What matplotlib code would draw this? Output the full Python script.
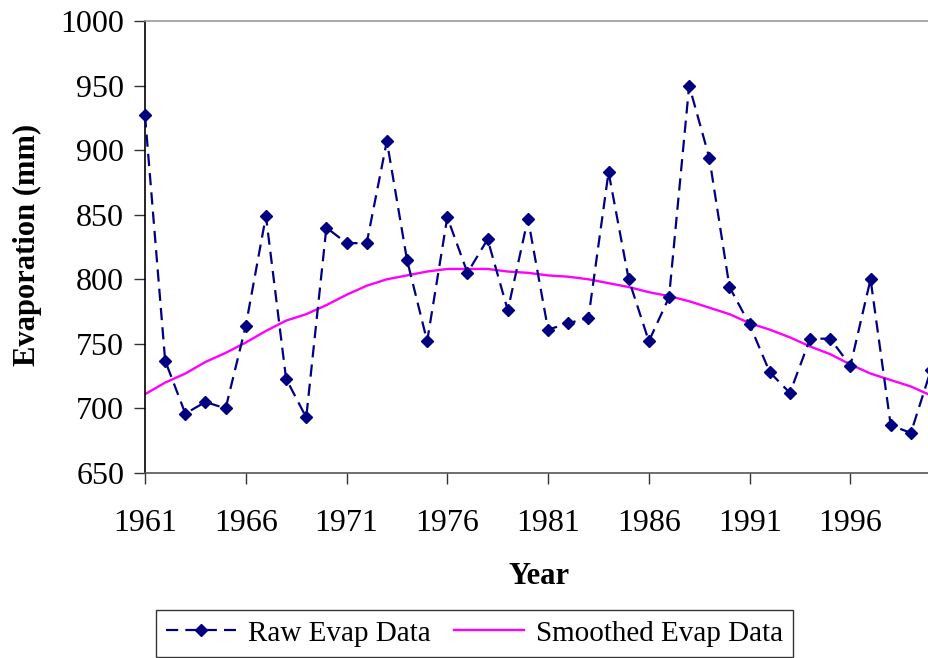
import numpy as np
import matplotlib.pyplot as plt

years = list(range(1961, 2001))
raw_evap = [927, 737, 696, 705, 700, 764, 849, 723, 693, 840,
            828, 828, 907, 815, 752, 848, 805, 831, 776, 847,
            761, 766, 770, 883, 800, 752, 786, 950, 894, 794,
            765, 728, 712, 754, 754, 733, 800, 687, 681, 730]
smooth_evap = [711, 720, 727, 736, 743, 751, 760, 768, 773, 780,
               788, 795, 800, 803, 806, 808, 808, 808, 806, 805,
               803, 802, 800, 797, 794, 790, 787, 783, 778, 773,
               766, 761, 755, 748, 742, 734, 727, 722, 717, 710]
xticks = list(range(1961, 2000, 5))
yticks = list(range(650, 1001, 50))

plt.rcParams['font.family'] = ['Liberation Serif', 'DejaVu Serif']

W, H = 929, 658
fig = plt.figure(figsize=(W/100, H/100), dpi=100)
ax = fig.add_axes([145/W, 1-473/H, (929-145)/W, (473-21)/H])

ax.plot(years, raw_evap, color='#000080', lw=1.6, dashes=(5.5, 3.2),
        marker='D', ms=6.5, label='Raw Evap Data', clip_on=False, zorder=3)
ax.plot(years, smooth_evap, color='#ff00ff', lw=1.7, label='Smoothed Evap Data', zorder=2)

ax.set_xlim(1961, 1999.9)
ax.set_ylim(650, 1000)
ax.set_xticks(xticks)
ax.set_yticks(yticks)
ax.tick_params(axis='both', labelsize=23, direction='out', length=8, width=1, color='#333333')
ax.tick_params(axis='x', pad=18)
ax.tick_params(axis='y', pad=7)

ax.spines['right'].set_visible(False)
ax.spines['top'].set_color('#999999')
ax.spines['left'].set_color('black')
ax.spines['bottom'].set_color('#555555')
for s in ax.spines.values():
    s.set_linewidth(1.2)

fig.text(539/W, 1-577/H, 'Year', ha='center', va='center', fontsize=22, fontweight='bold')
fig.text(27/W, 1-245/H, 'Evaporation (mm)', ha='center', va='center', rotation=90,
         fontsize=22, fontweight='bold')

leg = fig.legend(loc='upper left', bbox_to_anchor=(156/W, 1-610/H), ncol=2, fontsize=21,
                 frameon=True, fancybox=False, edgecolor='black', handlelength=2.4,
                 handletextpad=0.4, columnspacing=0.8, borderpad=0.35, borderaxespad=0)
leg.get_frame().set_linewidth(1.0)

fig.savefig('out.png', dpi=100)
